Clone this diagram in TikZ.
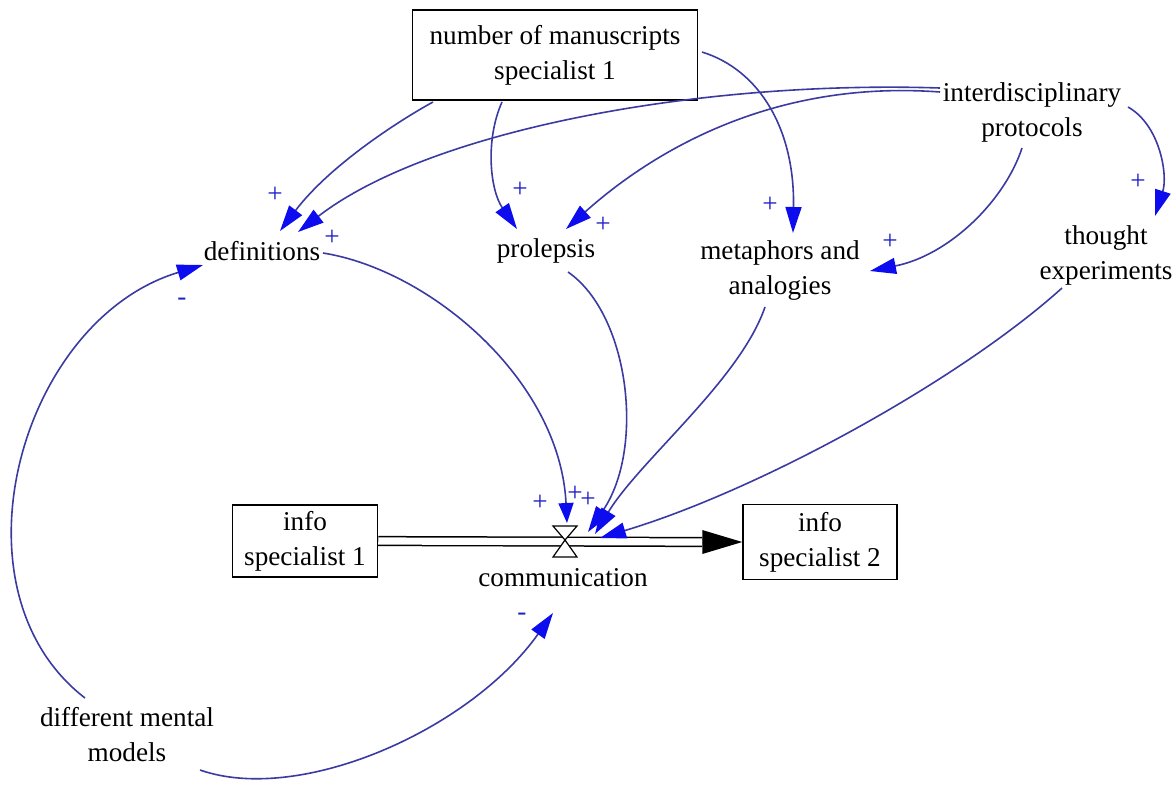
\documentclass[tikz,border=0pt]{standalone}
\usepackage{fontspec}
\setmainfont{Liberation Serif}
\usepackage{xcolor}
\usepackage{tikz}
\usetikzlibrary{calc, positioning, arrows.meta}

\definecolor{linkblue}{RGB}{58,58,162}
\definecolor{headblue}{RGB}{12,12,238}
\definecolor{signblue}{RGB}{32,32,200}

\begin{document}
\begin{tikzpicture}[x=0.5pt, y=-0.5pt, every node/.style={font=\fontsize{13.6}{17.5}\selectfont}]
\tikzstyle{varbox}=[draw=black, line width=0.75pt, fill=white, align=center, inner sep=0pt]
\tikzstyle{varname}=[align=center, inner sep=0pt, text=black]
\tikzstyle{causallink}=[draw=linkblue, line width=0.8pt, -{Triangle[length=13pt, width=8pt, color=headblue]}]
\tikzstyle{polsign}=[text=signblue, inner sep=0pt]

\useasboundingbox (0,0) rectangle (1174,784);

\node (manuscripts) at (555,55) [varbox, minimum width=142.5pt, minimum height=45pt] {number of manuscripts\\specialist 1};
\node (protocols) at (1032,112) [varname] {interdisciplinary\\protocols};
\node (definitions) at (262,251) [varname] {definitions};
\node (prolepsis) at (546,251) [varname] {prolepsis};
\node (metaphors) at (780,270) [varname] {metaphors and\\analogies};
\node (thought) at (1106,255) [varname] {thought\\experiments};
\node (info1) at (305,541) [varbox, minimum width=72.5pt, minimum height=36pt] {info\\specialist 1};
\node (info2) at (820,542) [varbox, minimum width=77pt, minimum height=37.5pt] {info\\specialist 2};
\node (communication) at (563,578) [varname] {communication};
\node (mental) at (127,735) [varname] {different mental\\models};
\coordinate (valve) at (565,540);

%% flow pipe with valve
\draw [double=white, double distance=3.6pt, line width=0.75pt] (info1.east) -- ($(info2.west)+(-40,0)$);
\fill [black] (info2.west) -- ++(-40,-12) -- ++(0,24) -- cycle;
\draw [fill=white, line width=0.6pt] ($(valve)+(-12,-14)$) -- ($(valve)+(12,-14)$) -- (valve) -- cycle;
\draw [fill=white, line width=0.6pt] (valve) -- ($(valve)+(-12,17)$) -- ($(valve)+(12,17)$) -- cycle;

%% links from the top
\draw [causallink] ($(manuscripts)+(-122,47)$) .. controls (400,120) and (330,165) .. ($(definitions)+(18,-20)$);
\draw [causallink] ($(protocols)+(-92,-24)$) .. controls (700,80) and (430,130) .. ($(definitions)+(36,-19)$);
\draw [causallink] ($(protocols)+(-92,-20)$) .. controls (780,80) and (660,145) .. ($(prolepsis)+(20,-22)$);
\draw [causallink] ($(manuscripts)+(-53,47)$) .. controls (485,140) and (490,190) .. ($(prolepsis)+(-29,-22)$);
\draw [causallink] ($(manuscripts)+(147,-3)$) .. controls (760,70) and (795,130) .. ($(metaphors)+(13,-37)$);
\draw [causallink] ($(protocols)+(96,-5)$) .. controls (1160,125) and (1168,175) .. ($(thought)+(49,-39)$);
\draw [causallink] ($(protocols)+(-10,36)$) .. controls (1005,200) and (950,255) .. ($(metaphors)+(90,1)$);

%% links into the valve
\draw [causallink, -{Triangle[length=10pt, width=7.5pt, color=headblue]}] ($(definitions)+(61,2)$) .. controls (430,270) and (560,380) .. ($(valve)+(2,-17)$);
\draw [causallink] ($(prolepsis)+(22,21)$) .. controls (630,315) and (645,450) .. ($(valve)+(23,-8)$);
\draw [causallink] ($(metaphors)+(-15,37)$) .. controls (740,380) and (640,460) .. ($(valve)+(30,-6)$);
\draw [causallink] ($(thought)+(-44,33)$) .. controls (960,380) and (760,490) .. ($(valve)+(35,-2)$);

%% different mental models
\draw [causallink] ($(mental)+(-42,-37)$) .. controls (-55,590) and (20,320) .. ($(definitions)+(-59,14)$);
\draw [causallink] ($(mental)+(73,35)$) .. controls (300,805) and (470,730) .. ($(communication)+(-10,35)$);

%% polarities
\node (s1) at (275,195) [polsign] {+};
\node (s2) at (332,238) [polsign] {+};
\node (s3) at (520,190) [polsign] {+};
\node (s4) at (603,225) [polsign] {+};
\node (s5) at (770,205) [polsign] {+};
\node (s6) at (890,242) [polsign] {+};
\node (s7) at (1138,182) [polsign] {+};
\node (s8) at (540,503) [polsign] {+};
\node (s9) at (575,494) [polsign] {+};
\node (s10) at (588,500) [polsign] {+};
\node (s11) at (182,302) [polsign] {-};
\node (s12) at (522,617) [polsign] {-};
\end{tikzpicture}
\end{document}
